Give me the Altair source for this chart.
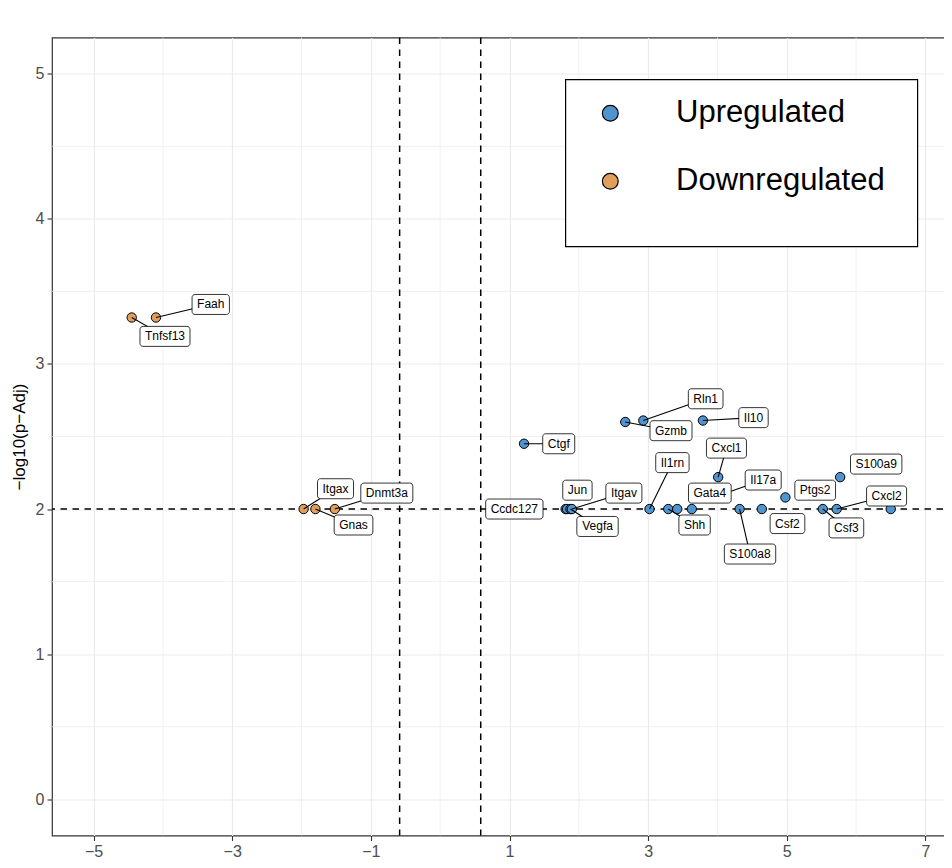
import altair as alt
import pandas as pd

# ---------------- data ----------------
genes = ["Tnfsf13", "Faah", "Itgax", "Gnas", "Dnmt3a",
         "Ctgf", "Ccdc127", "Jun", "Vegfa", "Itgav", "Gzmb", "Rln1", "Il1rn",
         "Shh", "", "Gata4", "Il10", "Cxcl1", "Il17a", "S100a8", "Csf2",
         "Ptgs2", "Csf3", "Cxcl2", "S100a9", ""]
log2fc = [-4.45, -4.10, -1.97, -1.80, -1.52,
          1.21, 1.81, 1.83, 1.88, 1.90, 2.67, 2.93, 3.02,
          3.29, 3.42, 3.63, 3.79, 4.01, 4.06, 4.32, 4.64,
          4.98, 5.52, 5.72, 5.77, 6.50]
neglog10p = [3.32, 3.32, 2.00, 2.00, 2.00,
             2.45, 2.00, 2.00, 2.00, 2.00, 2.60, 2.61, 2.00,
             2.00, 2.00, 2.00, 2.61, 2.22, 2.10, 2.00, 2.00,
             2.08, 2.00, 2.00, 2.22, 2.00]
regulation = ["Downregulated"] * 5 + ["Upregulated"] * 21

# repelled label positions (data units)
label_genes = ["Faah", "Tnfsf13", "Itgax", "Dnmt3a", "Gnas", "Ctgf", "Rln1",
               "Gzmb", "Il10", "Cxcl1", "Il1rn", "Il17a", "Gata4", "Ptgs2",
               "S100a9", "Cxcl2", "Csf2", "Csf3", "S100a8", "Shh", "Ccdc127",
               "Jun", "Itgav", "Vegfa"]
label_x = [-3.31, -3.97, -1.51, -0.77, -1.25, 1.71, 3.83,
           3.33, 4.52, 4.13, 3.35, 4.66, 3.89, 5.41,
           6.29, 6.44, 5.01, 5.86, 4.47, 3.67, 1.07,
           1.98, 2.65, 2.27]
label_y = [3.41, 3.19, 2.14, 2.11, 1.89, 2.45, 2.76,
           2.54, 2.63, 2.42, 2.32, 2.20, 2.11, 2.13,
           2.31, 2.09, 1.90, 1.87, 1.69, 1.89, 2.00,
           2.13, 2.11, 1.88]
no_segment = ["Gata4", "Ptgs2", "S100a9", "Csf2", "Ccdc127", "Jun"]

fc_cut = [-0.585, 0.585]
p_cut = [2.0]
x_major = [-5, -3, -1, 1, 3, 5, 7]
x_minor = [-4, -2, 0, 2, 4, 6]
y_major = [0, 1, 2, 3, 4, 5]
y_minor = [0.5, 1.5, 2.5, 3.5, 4.5]
categories = ["Upregulated", "Downregulated"]
colors = ["#4F94CD", "#E0A05C"]

# ---------------- layout ----------------
X_DOM = [-5.6, 7.6]
Y_DOM = [-0.25, 5.25]
W, H = 915, 798
pxx = W / (X_DOM[1] - X_DOM[0])
pxy = H / (Y_DOM[1] - Y_DOM[0])
FONT = "Liberation Sans"
LABEL_SIZE = 12

AW = {"A": 667, "C": 722, "D": 722, "F": 611, "G": 778, "I": 278, "J": 500,
      "L": 556, "P": 667, "R": 722, "S": 667, "T": 611, "V": 667,
      "a": 556, "b": 556, "c": 500, "d": 556, "e": 556, "f": 278, "g": 556,
      "h": 556, "i": 222, "l": 222, "m": 833, "n": 556, "o": 556, "r": 333,
      "s": 500, "t": 278, "u": 556, "v": 500, "x": 500, "y": 500, "z": 500}


def text_w(s, size):
    return sum(AW.get(c, 556) for c in s) / 1000.0 * size


pts = pd.DataFrame({"gene": genes, "x": log2fc, "y": neglog10p,
                    "reg": regulation})

lab = pd.DataFrame({"gene": label_genes, "lx": label_x, "ly": label_y})
half_w = lab["gene"].apply(lambda s: text_w(s, LABEL_SIZE) / 2 + 5) / pxx
half_h = 10 / pxy
lab["x1"] = lab["lx"] - half_w
lab["x2"] = lab["lx"] + half_w
lab["y1"] = lab["ly"] - half_h
lab["y2"] = lab["ly"] + half_h

seg = lab[~lab["gene"].isin(no_segment)].merge(pts[pts["gene"] != ""], on="gene")

axis_common = dict(grid=True, gridColor="#EBEBEB", gridWidth=1.2, domain=False,
                   tickColor="#333333", tickWidth=1.1, tickSize=5,
                   labelColor="#4D4D4D", labelFontSize=16, labelFont=FONT,
                   titleFont=FONT, titleFontSize=17, titleColor="black",
                   titleFontWeight="normal")
x_axis = alt.Axis(values=x_major, labelPadding=3, labelFlush=False,
                  titleBaseline="top", titleY=23, titleX=435,
                  titleAlign="center", **axis_common)
y_axis = alt.Axis(values=y_major, labelPadding=3, titlePadding=6.5,
                  **axis_common)

XT = "log2 Fold Change"
YT = "\u2212log10(p\u2212Adj)"
xs = alt.Scale(domain=X_DOM, nice=False, zero=False)
ys = alt.Scale(domain=Y_DOM, nice=False, zero=False)


def X(f):
    return alt.X(f, type="quantitative", scale=xs, axis=x_axis, title=XT)


def Y(f):
    return alt.Y(f, type="quantitative", scale=ys, axis=y_axis, title=YT)


minor_x = alt.Chart(pd.DataFrame({"x": x_minor})).mark_rule(
    color="#EBEBEB", strokeWidth=0.7).encode(x=X("x"))
minor_y = alt.Chart(pd.DataFrame({"y": y_minor})).mark_rule(
    color="#EBEBEB", strokeWidth=0.7).encode(y=Y("y"))

vlines = alt.Chart(pd.DataFrame({"x": fc_cut})).mark_rule(
    color="black", strokeWidth=1.5, strokeDash=[6.5, 5.5]).encode(x=X("x"))
hline = alt.Chart(pd.DataFrame({"y": p_cut})).mark_rule(
    color="black", strokeWidth=1.5, strokeDash=[6.5, 5.5]).encode(y=Y("y"))

# blank (invisible) legend title: gives the legend frame its empty bottom band
legend_blank = "\u2800" * 35

points = alt.Chart(pts).mark_circle(
    size=88, opacity=1, stroke="black", strokeWidth=1).encode(
    x=X("x"), y=Y("y"),
    fill=alt.Fill("reg:N", scale=alt.Scale(domain=categories, range=colors),
                  legend=alt.Legend(title=legend_blank, orient="none",
                                    legendX=513.3, legendY=41.8)))

segments = alt.Chart(seg).mark_rule(color="black", strokeWidth=1.1).encode(
    x=X("x"), y=Y("y"), x2="lx", y2="ly")

boxes = alt.Chart(lab).mark_rect(
    fill="white", stroke="black", strokeWidth=0.8, cornerRadius=3).encode(
    x=X("x1"), x2="x2", y=Y("y1"), y2="y2")

texts = alt.Chart(lab).mark_text(
    font=FONT, fontSize=LABEL_SIZE, color="black", baseline="middle",
    align="center").encode(x=X("lx"), y=Y("ly"), text="gene:N")

chart = alt.layer(minor_x, minor_y, vlines, hline, points, segments, boxes,
                  texts).properties(
    width=W, height=H,
    autosize=alt.AutoSizeParams(type="none"),
    padding={"left": 44, "top": 29.5, "right": -23, "bottom": 22.5},
).configure_view(stroke="#333333", strokeWidth=1.2).configure_legend(
    strokeColor="black", strokeWidth=1.2, fillColor="white", padding=18.5,
    labelFontSize=31, labelFont=FONT, labelColor="black", labelLimit=400,
    symbolType="circle", symbolSize=250, symbolStrokeColor="black",
    symbolStrokeWidth=1.2, symbolOffset=11, labelOffset=50.3, rowPadding=36,
    titleOrient="bottom", titleFontSize=12.1, titlePadding=18.5,
    titleLimit=1000, titleColor="white")

chart.save("out.html", embed_options={"renderer": "svg", "actions": False})
